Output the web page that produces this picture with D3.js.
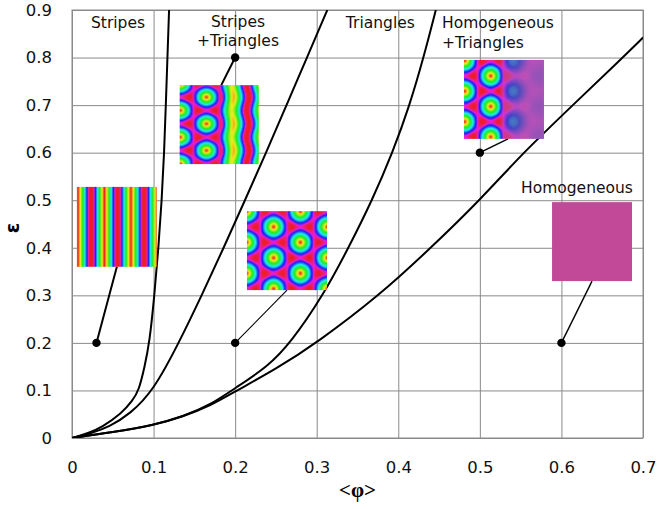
<!DOCTYPE html>
<html>
<head>
<meta charset="utf-8">
<script src="https://cdn.jsdelivr.net/npm/d3@7"></script>
<style>
  html, body { margin: 0; padding: 0; background: #fff; }
  svg { display: block; }
</style>
</head>
<body>
<svg id="chart" width="657" height="509"></svg>
<script>
// Axis ticks
const phiTicks = [0, 0.1, 0.2, 0.3, 0.4, 0.5, 0.6, 0.7];
const epsTicks = [0, 0.1, 0.2, 0.3, 0.4, 0.5, 0.6, 0.7, 0.8, 0.9];

// Phase boundaries, [<φ>, ε]
const stripesBoundary = [[0,0],[0.02,0.01],[0.037,0.023],[0.061,0.052],[0.074,0.078],[0.082,0.1],[0.089,0.15],[0.095,0.2],[0.101,0.3],[0.106,0.4],[0.110,0.5],[0.113,0.6],[0.115,0.7],[0.117,0.8],[0.119,0.9]];
const stripesTrianglesBoundary = [[0,0],[0.025,0.011],[0.045,0.023],[0.071,0.05],[0.1,0.1],[0.131,0.2],[0.159,0.3],[0.186,0.4],[0.212,0.5],[0.238,0.6],[0.263,0.7],[0.288,0.8],[0.313,0.9]];
const trianglesBoundary = [[0,0],[0.05,0.012],[0.1,0.027],[0.136,0.045],[0.17,0.07],[0.2,0.105],[0.24,0.15],[0.268,0.2],[0.308,0.3],[0.339,0.4],[0.368,0.5],[0.393,0.6],[0.414,0.7],[0.431,0.8],[0.446,0.9]];
const homogeneousBoundary = [[0,0],[0.05,0.012],[0.1,0.027],[0.136,0.045],[0.17,0.068],[0.2,0.098],[0.25,0.145],[0.3,0.2],[0.377,0.3],[0.44,0.4],[0.5,0.5],[0.553,0.6],[0.614,0.7],[0.675,0.8],[0.7,0.842]];
const boundaries = [stripesBoundary, stripesTrianglesBoundary, trianglesBoundary, homogeneousBoundary];

// Phase labels: text lines, anchor point [<φ>, ε], alignment
const phaseLabels = [
  { lines: ["Stripes"], at: [0.0564, 0.862], anchor: "middle" },
  { lines: ["Stripes", "+Triangles"], at: [0.2035, 0.865], anchor: "middle" },
  { lines: ["Triangles"], at: [0.378, 0.862], anchor: "middle" },
  { lines: ["Homogeneous", "+Triangles"], at: [0.4536, 0.862], anchor: "start" },
  { lines: ["Homogeneous"], at: [0.5505, 0.515], anchor: "start" }
];

// Sample states: marker point, pattern box [φ0, φ1, ε0, ε1], leader end
const samples = [
  { pattern: "stripes",   point: [0.03, 0.2], box: [0.006, 0.104, 0.528, 0.360], leader: [0.055, 0.360], lw: 2 },
  { pattern: "mixedST",   point: [0.2, 0.8],  box: [0.132, 0.229, 0.742, 0.576], leader: [0.183, 0.742], lw: 2 },
  { pattern: "triangles", point: [0.2, 0.2],  box: [0.2145, 0.3126, 0.477, 0.311], leader: [0.2636, 0.311], lw: 1.1 },
  { pattern: "mixedHT",   point: [0.5, 0.6],  box: [0.4806, 0.5786, 0.795, 0.629], leader: [0.5345, 0.629], lw: 1.4 },
  { pattern: "homogeneous", point: [0.6, 0.2], box: [0.5885, 0.6865, 0.496, 0.330], leader: [0.6375, 0.330], lw: 1.4 }
];

const svg = d3.select("#chart");
const x = d3.scaleLinear().domain([0, 0.7]).range([72, 643]);
const y = d3.scaleLinear().domain([0, 0.9]).range([438, 10]);
const tickFmt = d => d === 0 ? "0" : d3.format(".1f")(d);
const gridColor = "#8a8a8a";

// Grid + tick labels
const gx = svg.append("g").attr("transform", `translate(0,${y(0)})`)
  .call(d3.axisBottom(x).tickValues(phiTicks).tickFormat(tickFmt)
    .tickSizeInner(-(y(0) - y(0.9))).tickSizeOuter(0).tickPadding(23));
const gy = svg.append("g").attr("transform", `translate(${x(0)},0)`)
  .call(d3.axisLeft(y).tickValues(epsTicks).tickFormat(tickFmt)
    .tickSizeInner(-(x(0.7) - x(0))).tickSizeOuter(0).tickPadding(20));
[gx, gy].forEach(g => {
  g.select(".domain").remove();
  g.selectAll(".tick line").attr("stroke", gridColor).attr("stroke-width", 1);
  g.selectAll(".tick text").attr("fill", "#111")
    .style("font-family", "'DejaVu Sans', sans-serif").style("font-size", "16.5px");
});
svg.append("rect")
  .attr("x", x(0)).attr("y", y(0.9))
  .attr("width", x(0.7) - x(0)).attr("height", y(0) - y(0.9))
  .attr("fill", "none").attr("stroke", gridColor).attr("stroke-width", 1);

// Axis titles
svg.append("text").attr("x", (x(0) + x(0.7)) / 2).attr("y", 497)
  .attr("text-anchor", "middle")
  .style("font-family", "'Liberation Serif', serif").style("font-size", "21px").style("font-weight", "bold")
  .text("<φ>");
svg.append("text")
  .attr("transform", `translate(19,${(y(0) + y(0.9)) / 2 + 4}) rotate(-90)`)
  .attr("text-anchor", "middle")
  .style("font-family", "'DejaVu Sans', sans-serif").style("font-size", "19px").style("font-weight", "bold")
  .text("ε");

// Phase boundaries
const line = d3.line().x(d => x(d[0])).y(d => y(d[1])).curve(d3.curveBasis);
svg.append("clipPath").attr("id", "plotClip").append("rect")
  .attr("x", x(0)).attr("y", y(0.9)).attr("width", x(0.7) - x(0)).attr("height", y(0) - y(0.9));
svg.append("g").attr("clip-path", "url(#plotClip)")
  .selectAll("path").data(boundaries).join("path")
  .attr("d", line).attr("fill", "none").attr("stroke", "#000").attr("stroke-width", 2);

// Pattern rendering: order-parameter field -> ring colormap
// g = 1 at a spot centre (red), hue grows roughly linearly with distance,
// pink at the saddle between spots, red again at the field minimum.
function ringColor(g, sat) {
  g = Math.max(0, Math.min(1, g));
  const u = Math.sqrt((1 - g) * 1.125);
  let hue;
  if (u <= 1) hue = 318 * (2 * Math.asin(u) / Math.PI);
  else hue = 318 + 42 * Math.min(1, (u - 1) / (Math.sqrt(1.125) - 1));
  return d3.hsl(hue % 360, sat, 0.52).rgb();
}
function hexField(px, py, cx, cy, c, v) {
  const dx = px - cx, dy = py - cy;
  return Math.cos(2 * Math.PI * dx / c) + 2 * Math.cos(Math.PI * dx / c) * Math.cos(2 * Math.PI * dy / v);
}
function smooth(e0, e1, t) {
  const u = Math.max(0, Math.min(1, (t - e0) / (e1 - e0)));
  return u * u * (3 - 2 * u);
}
function fieldAt(kind, px, py) {
  if (kind === "stripes") {
    return { g: 0.5 + 0.5 * Math.cos(2 * Math.PI * (px - 1) / 26.5), s: 0.85 };
  }
  if (kind === "triangles") {
    return { g: (hexField(px, py, 26.6, 15.7, 26.8, 31) + 1.5) / 4.5, s: 0.85 };
  }
  if (kind === "mixedST") {
    const gh = (hexField(px, py, 26.7, 12, 26, 26.7) + 1.5) / 4.5;
    const row = Math.cos(2 * Math.PI * (py - 12) / 26.7);
    const gs = 0.47 + 0.47 * Math.cos(2 * Math.PI * (px - 53 - 1.2 * row) / 30) + 0.04 * row * smooth(62, 46, px);
    const w = smooth(36, 48, px);
    return { g: gh * (1 - w) + gs * w, s: 0.85 };
  }
  if (kind === "mixedHT") {
    const f = hexField(px, py, 26.7, 16, 26, 30.5);
    const A = px < 34 ? 1 : Math.exp(-(px - 34) / 11);
    return { g: 0.125 + 0.208 * A + A * f / 4.5, s: 0.85 - 0.45 * (1 - A) };
  }
  return { g: 0.105, s: 0.49 };
}
function patternURL(kind, w, h) {
  const canvas = document.createElement("canvas");
  canvas.width = w; canvas.height = h;
  const ctx = canvas.getContext("2d");
  const img = ctx.createImageData(w, h);
  for (let j = 0; j < h; j++) {
    for (let i = 0; i < w; i++) {
      const { g, s } = fieldAt(kind, i + 0.5, j + 0.5);
      const c = ringColor(g, s);
      const k = 4 * (j * w + i);
      img.data[k] = c.r; img.data[k + 1] = c.g; img.data[k + 2] = c.b; img.data[k + 3] = 255;
    }
  }
  ctx.putImageData(img, 0, 0);
  return canvas.toDataURL();
}

// Leaders, markers and pattern insets
const gs = svg.append("g");
samples.forEach(s => {
  gs.append("line")
    .attr("x1", x(s.point[0])).attr("y1", y(s.point[1]))
    .attr("x2", x(s.leader[0])).attr("y2", y(s.leader[1]))
    .attr("stroke", "#000").attr("stroke-width", s.lw);
  gs.append("circle").attr("cx", x(s.point[0])).attr("cy", y(s.point[1])).attr("r", 4.2).attr("fill", "#000");
  const bx = x(s.box[0]), bw = x(s.box[1]) - x(s.box[0]);
  const by = y(s.box[2]), bh = y(s.box[3]) - y(s.box[2]);
  gs.append("image")
    .attr("x", bx).attr("y", by).attr("width", bw).attr("height", bh)
    .attr("preserveAspectRatio", "none")
    .attr("href", patternURL(s.pattern, Math.round(bw), Math.round(bh)));
});

// Phase labels
const gl = svg.append("g")
  .style("font-family", "'DejaVu Sans', sans-serif").style("font-size", "15.5px").attr("fill", "#111");
phaseLabels.forEach(l => {
  const t = gl.append("text").attr("x", x(l.at[0])).attr("y", y(l.at[1])).attr("text-anchor", l.anchor);
  l.lines.forEach((s, i) => t.append("tspan").attr("x", x(l.at[0])).attr("dy", i === 0 ? 0 : 19.5).text(s));
});
</script>
</body>
</html>
